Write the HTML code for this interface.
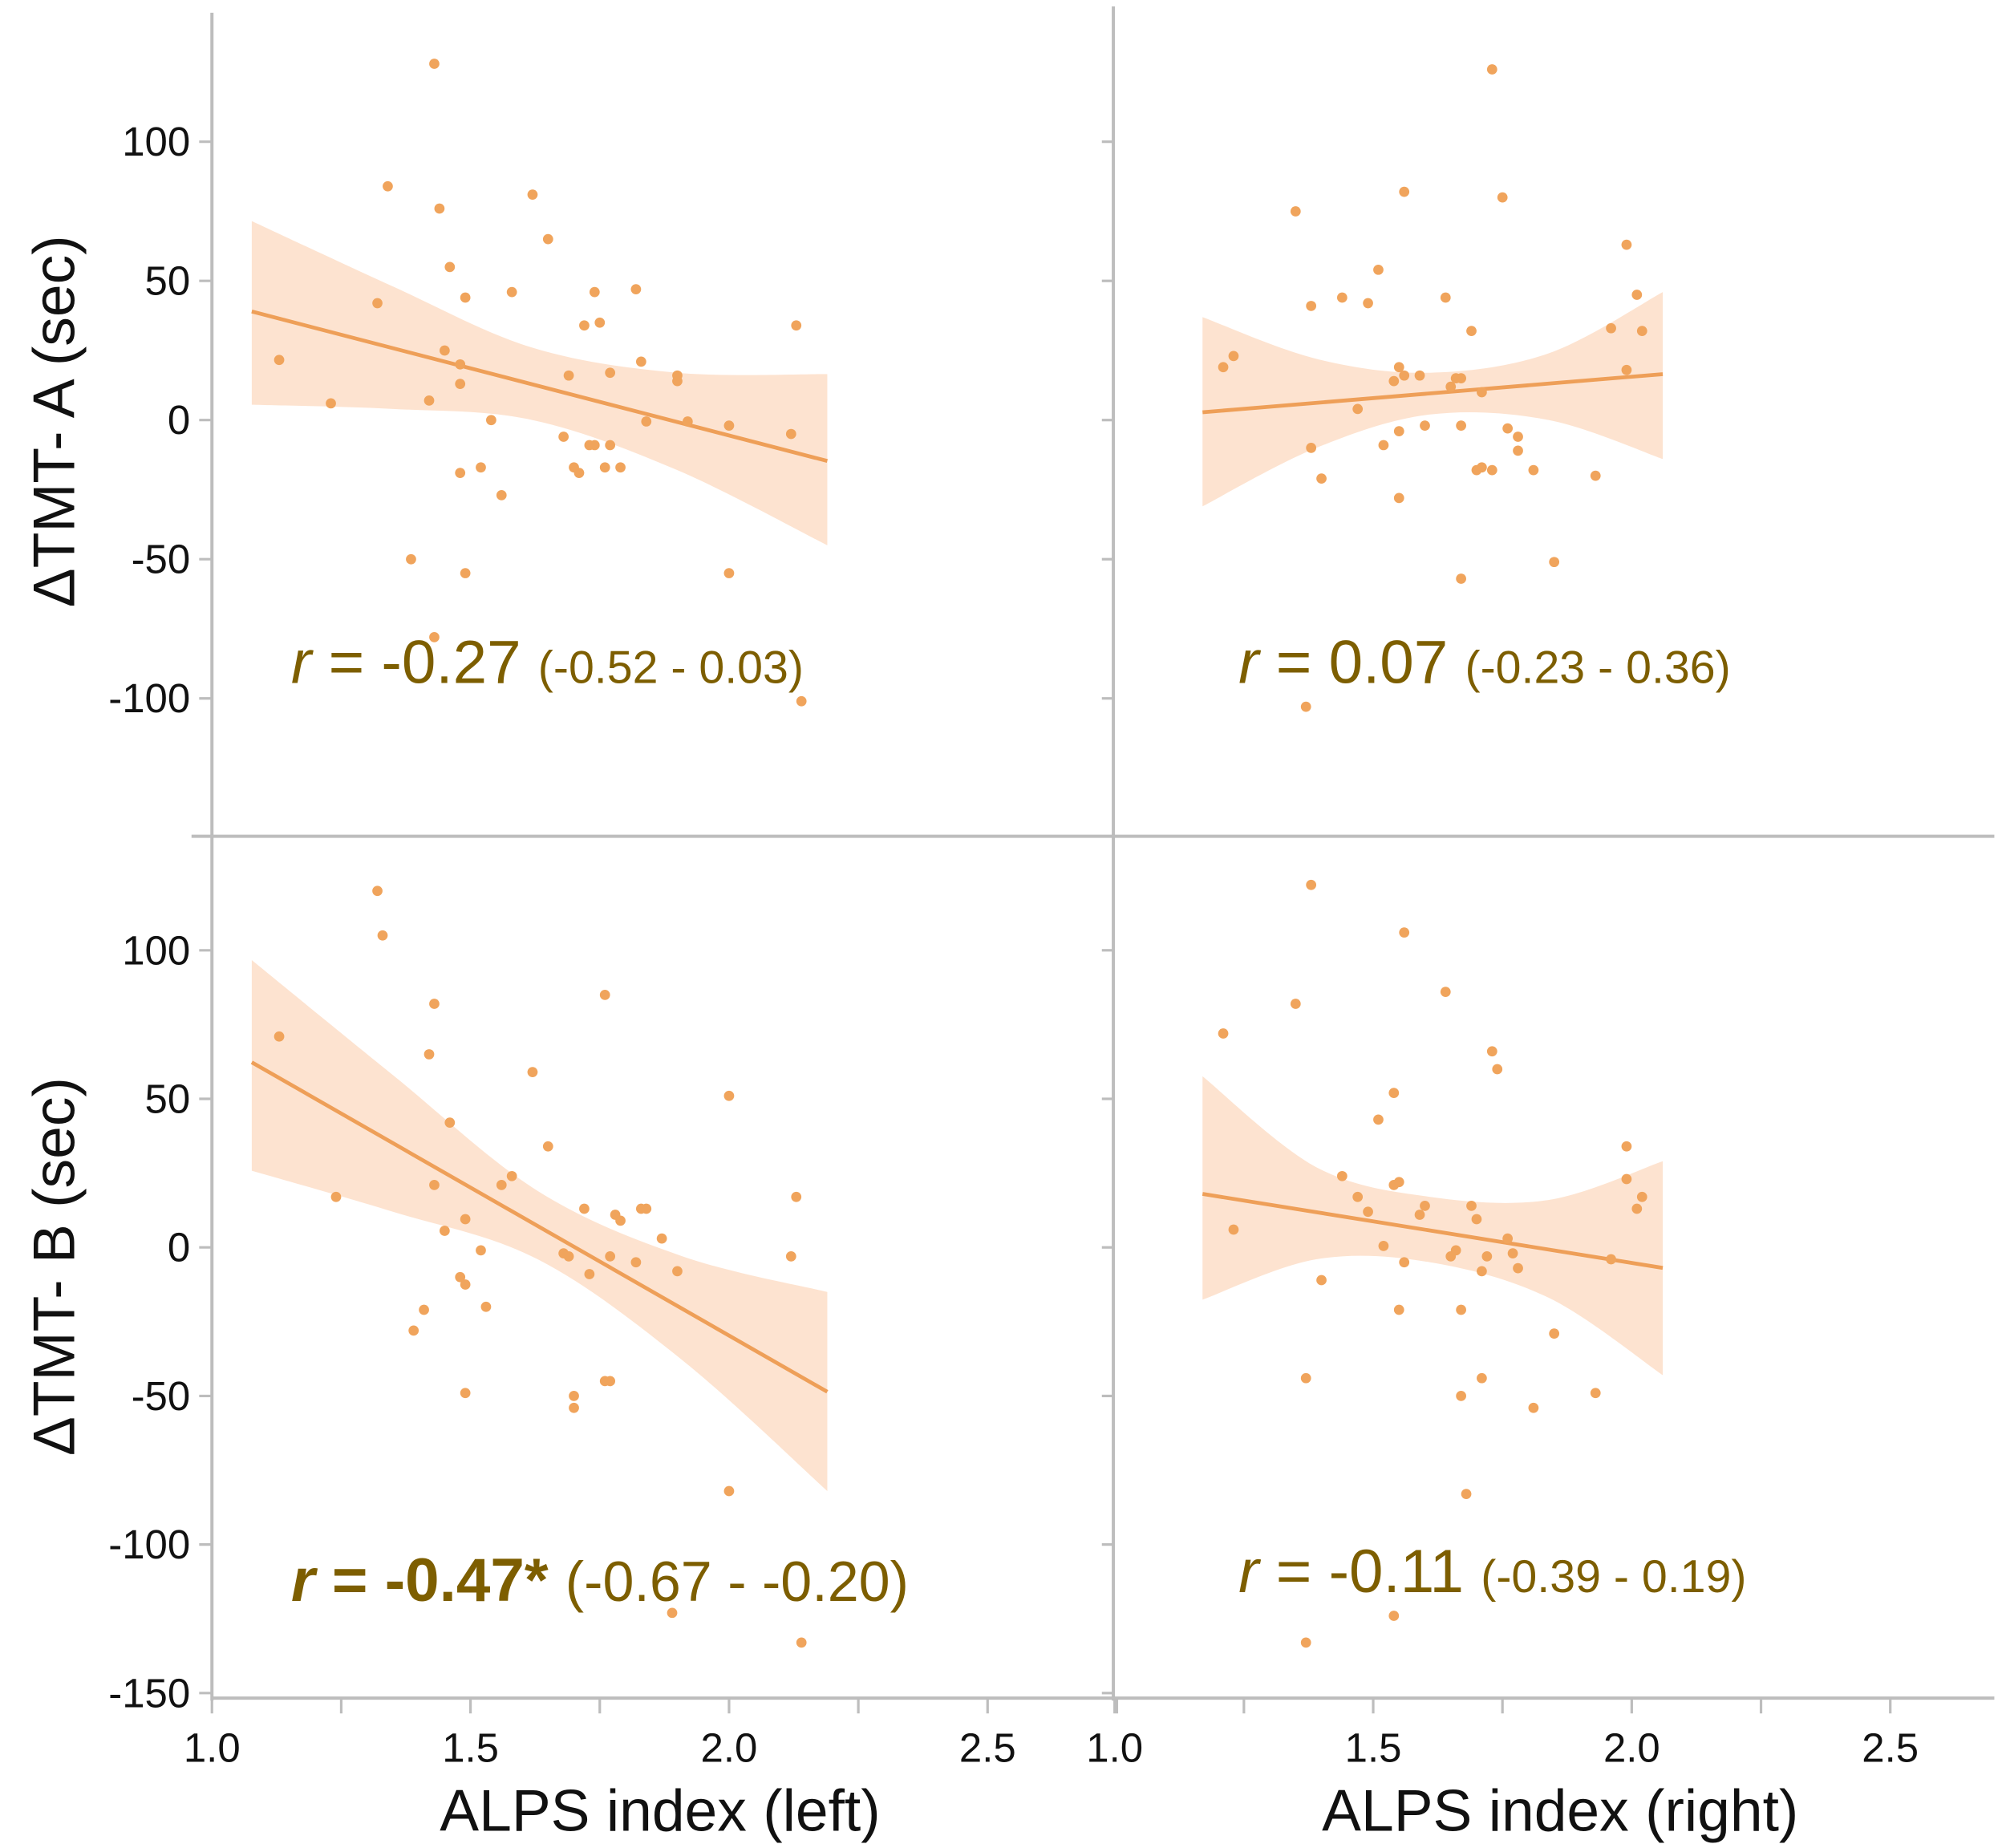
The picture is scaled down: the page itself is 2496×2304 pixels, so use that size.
<!DOCTYPE html>
<html><head><meta charset="utf-8">
<style>
html,body{margin:0;padding:0;background:#fff;}
svg{display:block;}
text{font-family:"Liberation Sans",sans-serif;}
</style></head>
<body>
<svg id="chart" width="2496" height="2304" viewBox="0 0 1568 1447.4" preserveAspectRatio="none" xmlns="http://www.w3.org/2000/svg">
<rect x="0" y="0" width="1568" height="1447.4" fill="#fff"/>
<g id="layer"></g>
</svg>
<script>
// ---- data ----
const tlX=[1.13,1.23,1.32,1.34,1.42,1.44,1.385,1.43,1.45,1.46,1.48,1.48,1.48,1.49,1.49,1.52,1.54,1.56,1.58,1.62,1.65,1.68,1.69,1.70,1.71,1.72,1.73,1.74,1.74,1.75,1.76,1.77,1.77,1.79,1.82,1.83,1.84,1.90,1.90,1.92,2.00,2.00,2.12,2.13,2.14,1.43];
const tlY=[21.6,6,42,84,7,76,-50,-78,25,55,20,13,-19,44,-55,-17,0,-27,46,81,65,-6,16,-17,-19,34,-9,46,-9,35,-17,17,-9,-17,47,21,-0.5,16,14,-0.5,-2,-55,-5,34,-101,128];
const trX=[1.21,1.23,1.35,1.38,1.38,1.40,1.44,1.47,1.49,1.51,1.52,1.54,1.55,1.55,1.55,1.56,1.56,1.59,1.60,1.64,1.65,1.66,1.67,1.67,1.67,1.69,1.70,1.71,1.71,1.73,1.73,1.75,1.76,1.78,1.78,1.81,1.85,1.93,1.96,1.99,1.99,2.01,2.02,1.37];
const trY=[19,23,75,41,-10,-21,44,4,42,54,-9,14,-4,-28,19,82,16,16,-2,44,12,15,-2,-57,15,32,-18,-17,10,-18,126,80,-3,-6,-11,-18,-51,-20,33,63,18,45,32,-103];
const blX=[1.13,1.24,1.32,1.33,1.39,1.41,1.42,1.43,1.43,1.45,1.46,1.48,1.49,1.49,1.49,1.52,1.53,1.56,1.58,1.62,1.65,1.68,1.69,1.70,1.70,1.72,1.73,1.76,1.76,1.77,1.77,1.78,1.79,1.82,1.83,1.84,1.87,1.90,2.00,2.00,1.89,2.12,2.13,2.14];
const blY=[71,17,120,105,-28,-21,65,82,21,5.6,42,-10,-12.5,9.5,-49,-1,-20,21,24,59,34,-2,-3,-54,-50,13,-9,85,-45,-45,-3,11,9,-5,13,13,3,-8,51,-82,-123,-3,17,-133];
const brX=[1.21,1.23,1.35,1.37,1.38,1.40,1.44,1.47,1.49,1.51,1.52,1.54,1.54,1.55,1.55,1.56,1.56,1.59,1.60,1.64,1.65,1.66,1.67,1.67,1.68,1.69,1.70,1.71,1.71,1.72,1.73,1.74,1.76,1.77,1.78,1.81,1.85,1.93,1.96,1.99,1.99,2.01,2.02,1.37,1.54];
const brY=[72,6,82,-44,122,-11,24,17,12,43,0.5,52,21,-21,22,106,-5,11,14,86,-3,-1,-21,-50,-83,14,9.5,-44,-8,-3,66,60,3,-2,-7,-54,-29,-49,-4,34,23,13,17,-133,-124];
// fit lines [x0,y0,x1,y1]
const tlFit=[1.077,39,2.19,-14.7];
const trFit=[1.17,2.8,2.06,16.5];
const blFit=[1.077,62.3,2.19,-48.6];
const brFit=[1.17,18,2.06,-6.9];
// confidence bands
const tlBandX=[1.077,1.35,1.62,1.9,2.19], tlBandHi=[71.5,48,26,17,16.5], tlBandLo=[5.5,4,0,-18,-45];
const trBandX=[1.17,1.39,1.61,1.84,2.06], trBandHi=[37,22,17,24,46], trBandLo=[-31,-10,2,0,-14];
const blBandX=[1.077,1.35,1.63,1.91,2.19], blBandHi=[96.7,58,19,-3,-15], blBandLo=[25.8,12,-4,-38,-82];
const brBandX=[1.17,1.39,1.61,1.84,2.06], brBandHi=[57.6,27,17,16,29], brBandLo=[-17.6,-4,-5,-17,-43];
const xTicks=["1.0","1.5","2.0","2.5"];
const xTickVals=[1.0,1.5,2.0,2.5];
const yTopTicks=[100,50,0,-50,-100];
const yBotTicks=[100,50,0,-50,-100,-150];

const NS="http://www.w3.org/2000/svg";
const layer=document.getElementById('layer');
function mk(tag,attrs,parent){const e=document.createElementNS(NS,tag);for(const k in attrs)e.setAttribute(k,attrs[k]);(parent||layer).appendChild(e);return e;}

function xScale(x0){return v=>x0+(v-1)*405;}
const topY=v=>329-v*2.18;
const botY=v=>977-v*2.327;
const AX="#bdbdbd";

let l;
l=mk('line',{x1:166,y1:10,x2:166,y2:1332,stroke:AX,'stroke-width':2.5});

l=mk('line',{x1:872,y1:5,x2:872,y2:1332,stroke:AX,'stroke-width':2.5});

l=mk('line',{x1:150,y1:655,x2:1562,y2:655,stroke:AX,'stroke-width':2.5});

l=mk('line',{x1:166,y1:1330,x2:1562,y2:1330,stroke:AX,'stroke-width':2.5});


function smooth(pts){let d='';for(let i=0;i<pts.length;i++){const p=pts[i];if(i===0){d+='M'+p[0]+','+p[1];continue;}const p0=pts[Math.max(i-2,0)],p1=pts[i-1],p2=p,p3=pts[Math.min(i+1,pts.length-1)];const c1=[p1[0]+(p2[0]-p0[0])/6,p1[1]+(p2[1]-p0[1])/6],c2=[p2[0]-(p3[0]-p1[0])/6,p2[1]-(p3[1]-p1[1])/6];d+=' C'+c1[0]+','+c1[1]+' '+c2[0]+','+c2[1]+' '+p2[0]+','+p2[1];}return d;}

function panel(name,xs,ys,fit,bx,bhi,blo,sx,sy){
  const g=mk('g',{});
  
  
  const hi=bx.map((x,i)=>[sx(x),sy(bhi[i])]);
  const lo=bx.map((x,i)=>[sx(x),sy(blo[i])]).reverse();
  let d=smooth(hi)+' L'+lo[0][0]+','+lo[0][1]+' '+smooth(lo).replace(/^M[^ ]+/,'')+' Z';
  const band=mk('path',{d:d,fill:'#fde3d0',stroke:'none'},g);
  
  
  const ln=mk('line',{x1:sx(fit[0]),y1:sy(fit[1]),x2:sx(fit[2]),y2:sy(fit[3]),stroke:'#ee9f58','stroke-width':3},g);
  
  
  xs.forEach((x,i)=>{
    const c=mk('circle',{cx:sx(x),cy:sy(ys[i]),r:4,fill:'#f0a45c'},g);
    
    
  });
}
panel('panel-tmt-a-left',tlX,tlY,tlFit,tlBandX,tlBandHi,tlBandLo,xScale(166),topY);
panel('panel-tmt-a-right',trX,trY,trFit,trBandX,trBandHi,trBandLo,xScale(873),topY);
panel('panel-tmt-b-left',blX,blY,blFit,blBandX,blBandHi,blBandLo,xScale(166),botY);
panel('panel-tmt-b-right',brX,brY,brFit,brBandX,brBandHi,brBandLo,xScale(873),botY);

function yTicks(vals,sy){
  vals.forEach(v=>{
    let t=mk('line',{x1:156,y1:sy(v),x2:166,y2:sy(v),stroke:AX,'stroke-width':2});
    
    
    t=mk('line',{x1:863,y1:sy(v),x2:872,y2:sy(v),stroke:AX,'stroke-width':2});
    
    
    const tx=mk('text',{x:149,y:sy(v)+11,'text-anchor':'end','font-size':32,fill:'#111'});
    tx.textContent=String(v);
    
    
  });
}
yTicks(yTopTicks,topY);
yTicks(yBotTicks,botY);

[166,873].forEach(x0=>{
  const sx=xScale(x0);
  for(let v=1.0;v<=2.76;v+=0.25){
    const t=mk('line',{x1:sx(v),y1:1330,x2:sx(v),y2:1342,stroke:AX,'stroke-width':2});
    
    
  }
  xTickVals.forEach((v,i)=>{
    const tx=mk('text',{x:sx(v),y:1380,'text-anchor':'middle','font-size':32,fill:'#111'});
    tx.textContent=xTicks[i];
    
    
  });
});

function title(txt,x,y,rot,name){
  const t=mk('text',{x:x,y:y,'text-anchor':'middle','font-size':46,fill:'#111',transform:rot?`rotate(-90 ${x} ${y})`:''});
  t.textContent=txt;
  
  
}
title('ΔTMT- A (sec)',58,330,true,'y-axis-title-tmt-a');
title('ΔTMT- B (sec)',58,992,true,'y-axis-title-tmt-b');
title('ALPS index (left)',517,1434,false,'x-axis-title-left');
title('ALPS index (right)',1222,1434,false,'x-axis-title-right');

function ann(x,y,rv,ci,bold,name){
  const t=mk('text',{x:x,y:y,fill:'#7d5e00','font-size':48,'font-weight':bold?'bold':'normal'});
  
  
  const a=mk('tspan',{'font-style':'italic'},t);a.textContent='r';
  const b=mk('tspan',{},t);b.textContent=' = '+rv+' ';
  const c=mk('tspan',{'font-size':bold?44:36,'font-weight':'normal'},t);c.textContent=ci;
}
ann(228,535,'-0.27','(-0.52 - 0.03)',false,'r-annotation-tmt-a-left');
ann(970,535,'0.07','(-0.23 - 0.36)',false,'r-annotation-tmt-a-right');
ann(228,1254,'-0.47*','(-0.67 - -0.20)',true,'r-annotation-tmt-b-left');
ann(970,1247,'-0.11','(-0.39 - 0.19)',false,'r-annotation-tmt-b-right');
</script>
</body></html>
